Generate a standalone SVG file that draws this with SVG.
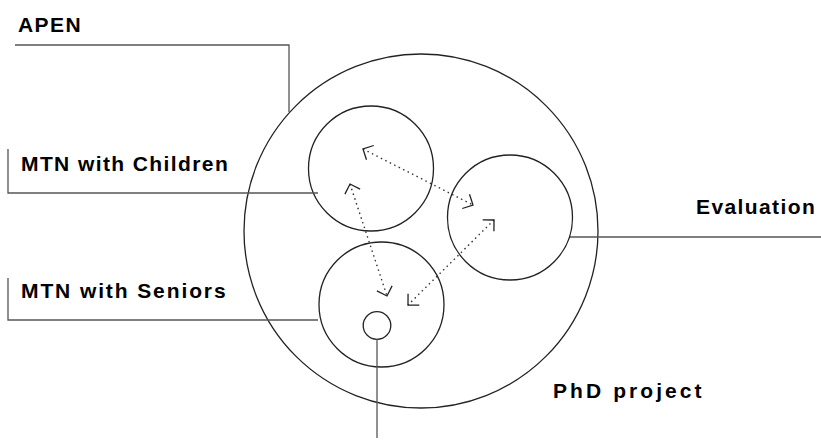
<svg xmlns="http://www.w3.org/2000/svg" width="821" height="444" viewBox="0 0 821 444">
  <style>
    .lbl { font-family: "Liberation Sans", Arial, Helvetica, sans-serif; font-weight: bold; font-size: 21px; letter-spacing: 1.4px; fill: #000; }
    .ring { fill: none; stroke: #222; stroke-width: 1.3; }
    .lead { fill: none; stroke: #555; stroke-width: 1.3; }
    .dot { fill: none; stroke: #333; stroke-width: 1.4; stroke-dasharray: 1.5 3.5; }
  </style>
  <defs>
    <marker id="chev" viewBox="-12 -12 14 24" markerWidth="14" markerHeight="24" refX="0" refY="0" orient="auto-start-reverse" markerUnits="userSpaceOnUse">
      <path d="M -8,-8 L 0,0 L -8,8" fill="none" stroke="#222" stroke-width="1.3"/>
    </marker>
  </defs>
  <rect width="821" height="444" fill="#fff"/>

  <g id="phd-project">
    <circle class="ring" cx="421" cy="231" r="177"/>
  </g>
  <g id="mtn-children">
    <circle class="ring" cx="371" cy="168.5" r="62.5"/>
  </g>
  <g id="evaluation">
    <circle class="ring" cx="510" cy="217.5" r="62.5"/>
  </g>
  <g id="mtn-seniors">
    <circle class="ring" cx="381.5" cy="304.5" r="62.5"/>
  </g>
  <g id="phd-core">
    <circle class="ring" cx="377" cy="325.5" r="13.8"/>
  </g>

  <g id="connectors">
    <polyline class="lead" points="15,45 289,45 289,112"/>
    <polyline class="lead" points="8,149 8,193 318,193"/>
    <polyline class="lead" points="8,278 8,320 318,320"/>
    <line class="lead" x1="570" y1="237" x2="821" y2="237"/>
    <line class="lead" x1="377" y1="339.3" x2="377" y2="438"/>
    <line class="dot" x1="363" y1="149" x2="473" y2="205" marker-start="url(#chev)" marker-end="url(#chev)"/>
    <line class="dot" x1="350" y1="184" x2="387" y2="296" marker-start="url(#chev)" marker-end="url(#chev)"/>
    <line class="dot" x1="494" y1="220" x2="408" y2="305" marker-start="url(#chev)" marker-end="url(#chev)"/>
  </g>

  <g id="labels">
    <text class="lbl" x="18" y="32">APEN</text>
    <text class="lbl" x="21" y="171">MTN with Children</text>
    <text class="lbl" x="21" y="298" textLength="206" lengthAdjust="spacing">MTN with Seniors</text>
    <text class="lbl" x="696" y="214">Evaluation</text>
    <text class="lbl" x="553" y="398" textLength="150" lengthAdjust="spacing">PhD project</text>
  </g>
</svg>
